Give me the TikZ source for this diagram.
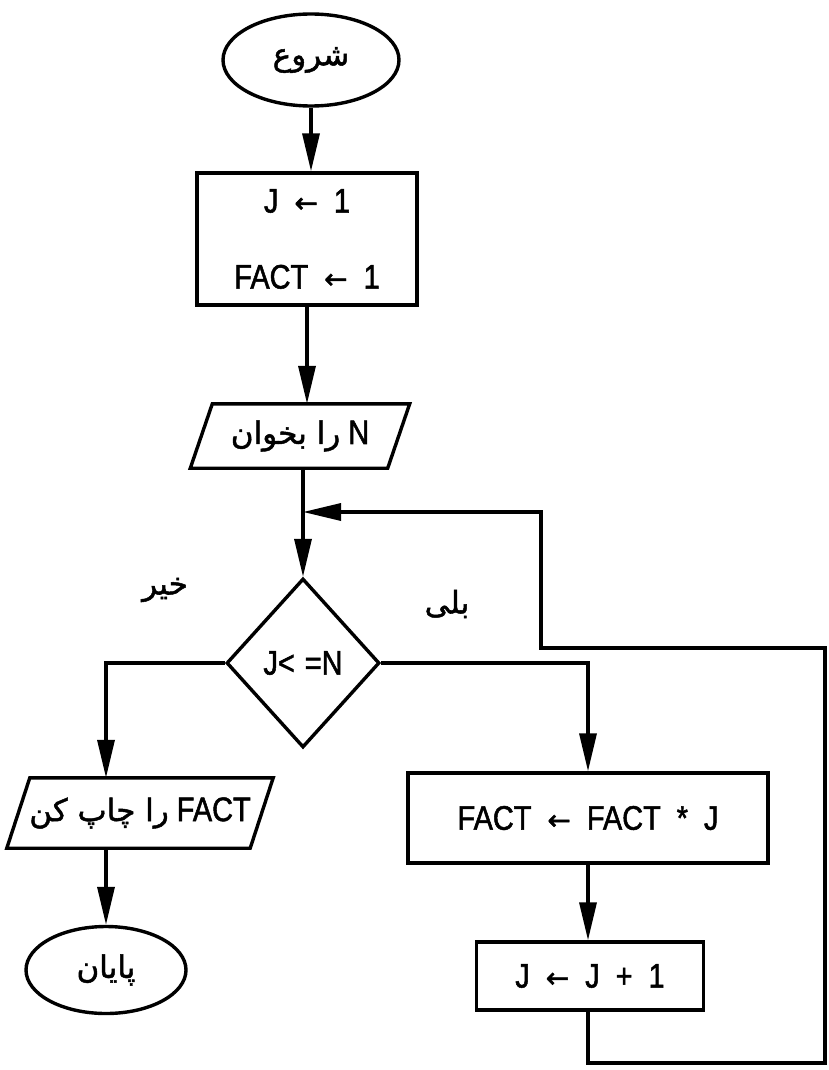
\documentclass[tikz,border=0pt]{standalone}
\usepackage{fontspec}
\setmainfont{Liberation Sans}[FakeStretch=0.85,FakeBold=1.5]
\newfontfamily\fa[Script=Arabic,FakeBold=1.5]{DejaVu Sans}
\newfontfamily\arrfont[FakeBold=1.5]{DejaVu Sans}
\TeXXeTstate=1
\usetikzlibrary{shapes.geometric,arrows.meta}
\newcommand\la{{\arrfont\fontsize{28}{30}\selectfont ←}}
\newcommand\gp{\hspace{16pt}}
\newcommand\per[1]{{\fa\fontsize{31}{36}\selectfont\beginR #1\endR}}
\begin{document}
\begin{tikzpicture}[x=1pt,y=-1pt,
  every node/.style={font=\fontsize{34}{40}\selectfont, inner sep=0pt},
  ln/.style={line width=3.4pt},
  flow/.style={ln, -{Triangle[length=38pt,width=17pt]}},
  term/.style={ln, draw, ellipse},
  proc/.style={ln, draw, rectangle},
  dec/.style={ln, draw, diamond}]
\useasboundingbox[fill=white] (0,0) rectangle (828,1070);

\node[term, minimum width=176, minimum height=92] (start) at (311,60) {\per{شروع}};
\node[proc, minimum width=220, minimum height=132, align=center] (init) at (307,239)
  {J\gp\la\gp 1\\[36pt]FACT\gp\la\gp 1};
\node[minimum width=197, minimum height=64] (read) at (300,436) {\per{را بخوان}~N};
\draw[ln] ([xshift=11pt]read.north west) -- ([xshift=11pt]read.north east)
  -- ([xshift=-11pt]read.south east) -- ([xshift=-11pt]read.south west) -- cycle;
\coordinate (merge) at (303,512);
\node[dec, minimum width=153, minimum height=169] (test) at (303,663) {J<\hspace{10pt}=N};
\node (no) at (165,590) {\per{خیر}};
\node (yes) at (447,604) {\per{بلی}};
\node[minimum width=243, minimum height=70] (print) at (140,813) {\per{را چاپ کن}~FACT};
\draw[ln] ([xshift=11.5pt]print.north west) -- ([xshift=11.5pt]print.north east)
  -- ([xshift=-11.5pt]print.south east) -- ([xshift=-11.5pt]print.south west) -- cycle;
\node[term, minimum width=160, minimum height=87] (end) at (106,970) {\per{پایان}};
\node[proc, minimum width=360, minimum height=90] (calc) at (588,818)
  {FACT\gp\la\gp FACT\gp *\gp J};
\node[proc, minimum width=227, minimum height=68] (incr) at (590,976)
  {J\gp\la\gp J\gp +\gp 1};

\draw[flow] (start.south) -- (start.south |- init.north);
\draw[flow] (init.south) -- (init.south |- read.north);
\draw[ln] (read.south -| merge) -- (merge);
\draw[flow] (merge) -- (test.north);
\draw[flow] (test.west) -| (print.north -| end.north);
\draw[flow] (print.south -| end.north) -- (end.north);
\draw[flow] (test.east) -| (calc.north);
\draw[flow] (calc.south) -- (calc.south |- incr.north);
\draw[flow] (incr.south -| calc.south) -- (588,1063) -- (825,1063) -- (825,648)
  -- (541,648) -- (541,512) -- (merge);
\end{tikzpicture}
\end{document}
